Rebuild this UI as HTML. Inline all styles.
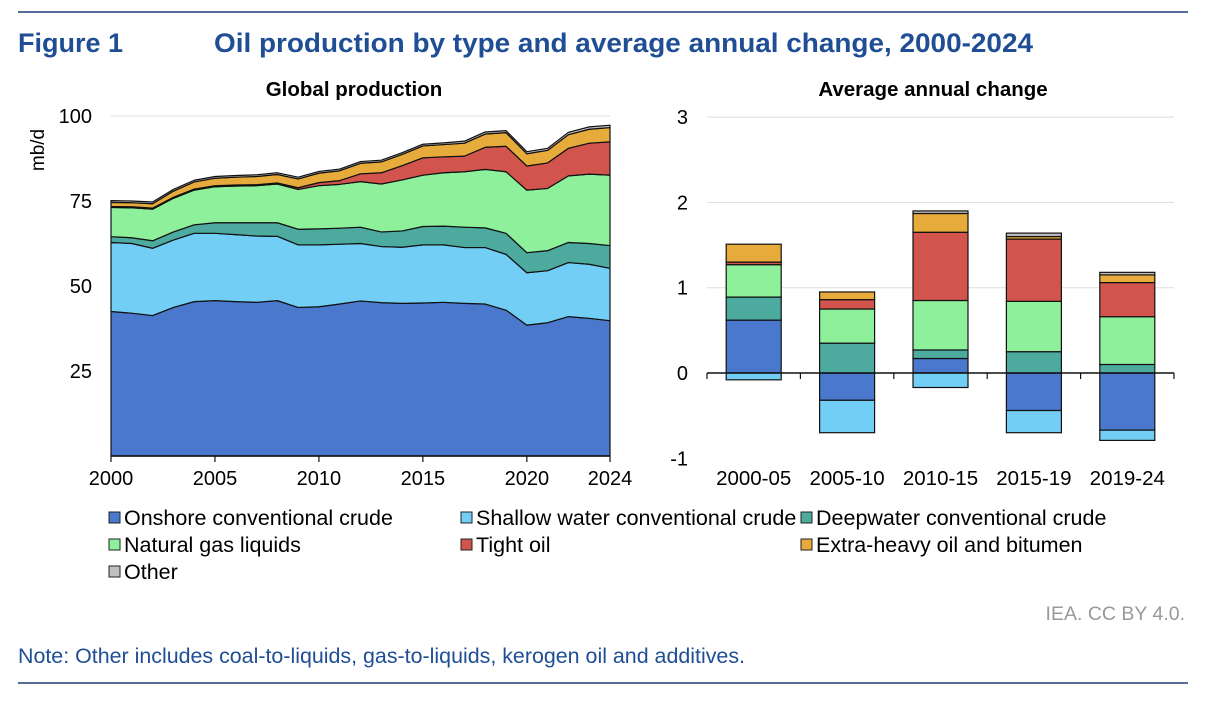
<!DOCTYPE html>
<html><head><meta charset="utf-8"><style>
body{margin:0;background:#fff;font-family:"Liberation Sans",Arial,sans-serif;}
svg text{font-family:"Liberation Sans",Arial,sans-serif;}
</style></head><body>
<svg id="c" width="1206" height="704" viewBox="0 0 1206 704" xmlns="http://www.w3.org/2000/svg">
<line x1="18" y1="12" x2="1188" y2="12" stroke="#1f3d7a" stroke-width="1.5"/>
<line x1="18" y1="683" x2="1188" y2="683" stroke="#1f3d7a" stroke-width="1.5"/>
<text x="18" y="52" font-size="27" font-weight="bold" fill="#1f4e95">Figure 1</text>
<text x="214" y="52" font-size="27" font-weight="bold" fill="#1f4e95" textLength="819" lengthAdjust="spacingAndGlyphs">Oil production by type and average annual change, 2000-2024</text>
<text x="354" y="96" font-size="20.5" font-weight="bold" text-anchor="middle">Global production</text>
<text x="933" y="96" font-size="20.5" font-weight="bold" text-anchor="middle">Average annual change</text>
<text transform="translate(44,150) rotate(-90)" font-size="19" text-anchor="middle">mb/d</text>
<g id="left"></g>
<g id="right"></g>
<g id="legend"></g>
<text x="1185" y="620" font-size="19.5" fill="#999" text-anchor="end">IEA. CC BY 4.0.</text>
<text x="18" y="663" font-size="21" fill="#1f4e95" textLength="727" lengthAdjust="spacingAndGlyphs">Note: Other includes coal-to-liquids, gas-to-liquids, kerogen oil and additives.</text>
</svg>
<script>
const seriesNames=["Onshore conventional crude","Shallow water conventional crude","Deepwater conventional crude","Natural gas liquids","Tight oil","Extra-heavy oil and bitumen","Other"];
const colors=["#4a78cc","#72cef5","#4caa9e","#8ef09a","#d1554d","#e6ab3a","#c0c0c0"];
const years=[2000,2001,2002,2003,2004,2005,2006,2007,2008,2009,2010,2011,2012,2013,2014,2015,2016,2017,2018,2019,2020,2021,2022,2023,2024];
const onshore=[42.5,42.0,41.3,43.7,45.4,45.7,45.4,45.2,45.7,43.7,43.9,44.7,45.6,45.1,44.9,45.0,45.2,44.9,44.7,42.9,38.5,39.2,41.0,40.5,39.8];
const shallow=[20.3,20.5,19.8,19.8,20.1,19.8,19.7,19.5,18.9,18.4,18.2,17.6,16.9,16.5,16.5,17.1,16.9,16.4,16.6,16.4,15.4,15.3,15.9,15.9,15.4];
const deepwater=[1.7,1.7,2.2,2.4,2.5,3.1,3.5,3.9,4.0,4.6,4.7,4.7,4.8,4.3,4.8,5.4,5.5,6.0,5.8,6.2,5.9,5.9,5.9,6.1,6.7];
const ngl=[8.6,8.8,9.3,9.9,10.2,10.6,10.8,10.9,11.4,11.7,12.7,12.9,13.4,14.1,15.0,15.1,15.7,16.3,17.2,18.1,18.4,18.3,19.6,20.4,20.7];
const tight=[0.3,0.3,0.3,0.3,0.3,0.3,0.3,0.3,0.3,0.5,0.9,1.1,2.3,3.3,4.2,5.1,4.7,4.6,6.5,7.5,7.1,7.5,8.1,9.1,9.8];
const extraHeavy=[1.2,1.2,1.3,1.8,2.1,2.2,2.3,2.4,2.5,2.6,2.8,2.9,3.1,3.2,3.3,3.5,3.6,3.8,3.9,4.0,3.6,3.7,4.0,4.1,4.2];
const other=[0.5,0.5,0.5,0.5,0.5,0.5,0.5,0.5,0.5,0.5,0.5,0.5,0.5,0.5,0.5,0.5,0.5,0.6,0.6,0.6,0.6,0.6,0.7,0.7,0.7];
const leftTicks=[25,50,75,100];
const xTickYears=[2000,2005,2010,2015,2020,2024];
const periods=["2000-05","2005-10","2010-15","2015-19","2019-24"];
const chOnshore=[0.62,-0.32,0.17,-0.44,-0.67];
const chShallow=[-0.08,-0.38,-0.17,-0.26,-0.12];
const chDeep=[0.27,0.35,0.10,0.25,0.10];
const chNgl=[0.38,0.40,0.58,0.59,0.56];
const chTight=[0.03,0.11,0.80,0.73,0.40];
const chExtra=[0.21,0.09,0.22,0.03,0.09];
const chOther=[0.00,0.00,0.03,0.04,0.03];
const rightTicks=[-1,0,1,2,3];

const NS="http://www.w3.org/2000/svg";
function mk(tag,attrs,parent){const e=document.createElementNS(NS,tag);for(const k in attrs)e.setAttribute(k,attrs[k]);parent.appendChild(e);return e;}
const L=document.getElementById('left'),R=document.getElementById('right'),G=document.getElementById('legend');
const xL=y=>111+(y-2000)*(499/24), yL=v=>456-v*3.4;
leftTicks.forEach(t=>{
  if(t===100){const g=mk('line',{x1:111,x2:610,y1:yL(t),y2:yL(t),stroke:'#ddd','stroke-width':1},L);
  
  }
  const tx=mk('text',{x:92,y:yL(t)+7,'font-size':20,'text-anchor':'end'},L);tx.textContent=t;
  
  
});
const stack=[onshore,shallow,deepwater,ngl,tight,extraHeavy,other];
let base=years.map(()=>0);
stack.forEach((s,i)=>{
  const top=base.map((b,j)=>b+s[j]);
  let d='M'+years.map((y,j)=>xL(y)+','+yL(top[j])).join(' L');
  d+=' L'+years.slice().reverse().map((y,j)=>xL(y)+','+yL(base[years.length-1-j])).join(' L')+'Z';
  const p=mk('path',{d:d,fill:colors[i],stroke:'#111','stroke-width':1.2,'stroke-linejoin':'round'},L);
  
  
  base=top;
});
const ax=mk('line',{x1:111,x2:610,y1:456,y2:456,stroke:'#111','stroke-width':1.5},L);


xTickYears.forEach(y=>{
  mk('line',{x1:xL(y),x2:xL(y),y1:456,y2:462,stroke:'#111','stroke-width':1.2},L);
  const tx=mk('text',{x:xL(y),y:485,'font-size':20,'text-anchor':'middle'},L);tx.textContent=y;
  
  
});
const yR=v=>373-v*85.3;
const x0=707,x1=1174,cw=(x1-x0)/periods.length,bw=55;
rightTicks.forEach(t=>{
  if(t>0){const g=mk('line',{x1:x0,x2:x1,y1:yR(t),y2:yR(t),stroke:'#ddd','stroke-width':1},R);
  
  }
  const tx=mk('text',{x:688,y:yR(t)+7,'font-size':20,'text-anchor':'end'},R);tx.textContent=t;
  
  
});
const ch=[chOnshore,chShallow,chDeep,chNgl,chTight,chExtra,chOther];
periods.forEach((p,i)=>{
  const cx=x0+cw*(i+0.5);let pos=0,neg=0;
  ch.forEach((s,k)=>{
    const v=s[i];if(v===0)return;
    let a,b;if(v>0){a=pos;b=pos+v;pos=b;}else{a=neg;b=neg+v;neg=b;}
    const r=mk('rect',{x:cx-bw/2,y:yR(Math.max(a,b)),width:bw,height:Math.abs(yR(a)-yR(b)),fill:colors[k],stroke:'#111','stroke-width':1.2},R);
    
    
  });
  const tx=mk('text',{x:cx,y:485,'font-size':20.5,'text-anchor':'middle'},R);tx.textContent=p;
  
  
});
const zl=mk('line',{x1:x0,x2:x1,y1:yR(0),y2:yR(0),stroke:'#111','stroke-width':1.5},R);


for(let i=0;i<=periods.length;i++)mk('line',{x1:x0+cw*i,x2:x0+cw*i,y1:yR(0),y2:yR(0)+6,stroke:'#111','stroke-width':1.2},R);
const lpos=[[109,517],[461,517],[801,517],[109,544],[461,544],[801,544],[109,571]];
seriesNames.forEach((n,i)=>{
  const g=mk('g',{},G);
  
  
  mk('rect',{x:lpos[i][0],y:lpos[i][1]-5,width:11,height:11,fill:colors[i],stroke:'#222','stroke-width':1},g);
  const t=mk('text',{x:lpos[i][0]+15,y:lpos[i][1]+8,'font-size':21.5},g);t.textContent=n;
});
</script>
</body></html>
